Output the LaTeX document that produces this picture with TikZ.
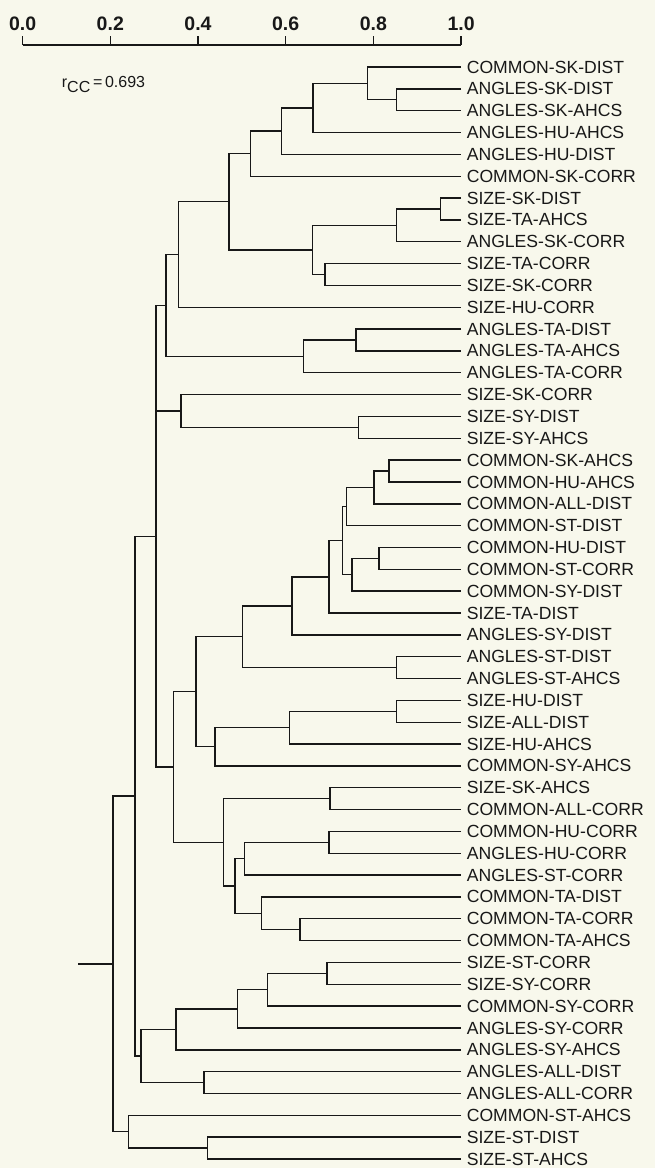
\documentclass[tikz,border=0pt]{standalone}
\usepackage{fontspec}
\setmainfont{Liberation Sans}
\usetikzlibrary{calc}
\definecolor{paper}{RGB}{248,248,236}
\definecolor{ink}{RGB}{24,24,24}

\begin{document}
\begin{tikzpicture}[x=438.5pt,y=-1pt,font=\fontsize{17.6}{17.6}\selectfont,
    branch/.style={ink,line width=1.4pt},
    leaflab/.style={anchor=west,inner sep=0pt,xshift=5.5pt,text=ink},
    ticklab/.style={anchor=base,inner sep=0pt,text=ink,font=\fontsize{19.5}{19.5}\selectfont\bfseries}]
  \fill[paper] (-0.05154,0) rectangle (1.44219,1168);
  \useasboundingbox (-0.05154,0) rectangle (1.44219,1168);
  \coordinate (zero) at (0,45);
  \coordinate (one) at (1,45);
  \draw[branch] (zero) -- (one);
  \foreach \t/\lab [count=\k] in {0/0.0,.2/0.2,.4/0.4,.6/0.6,.8/0.8,1/1.0} {
    \draw[branch] (\t,36)--(\t,45);
    \node[ticklab] (ax\k) at (\t,30) {\lab};
  }
  \node[anchor=base west,inner sep=0pt,text=ink,font=\fontsize{16}{16}\selectfont]
    (rcc) at (0.0892,87.3) {r\raisebox{-0.3em}{CC}\,=\,0.693};
  \foreach \lab [count=\i] in {COMMON-SK-DIST,ANGLES-SK-DIST,ANGLES-SK-AHCS,
      ANGLES-HU-AHCS,ANGLES-HU-DIST,COMMON-SK-CORR,SIZE-SK-DIST,SIZE-TA-AHCS,
      ANGLES-SK-CORR,SIZE-TA-CORR,SIZE-SK-CORR,SIZE-HU-CORR,ANGLES-TA-DIST,
      ANGLES-TA-AHCS,ANGLES-TA-CORR,SIZE-SK-CORR,SIZE-SY-DIST,SIZE-SY-AHCS,
      COMMON-SK-AHCS,COMMON-HU-AHCS,COMMON-ALL-DIST,COMMON-ST-DIST,
      COMMON-HU-DIST,COMMON-ST-CORR,COMMON-SY-DIST,SIZE-TA-DIST,ANGLES-SY-DIST,
      ANGLES-ST-DIST,ANGLES-ST-AHCS,SIZE-HU-DIST,SIZE-ALL-DIST,SIZE-HU-AHCS,
      COMMON-SY-AHCS,SIZE-SK-AHCS,COMMON-ALL-CORR,COMMON-HU-CORR,
      ANGLES-HU-CORR,ANGLES-ST-CORR,COMMON-TA-DIST,COMMON-TA-CORR,
      COMMON-TA-AHCS,SIZE-ST-CORR,SIZE-SY-CORR,COMMON-SY-CORR,ANGLES-SY-CORR,
      ANGLES-SY-AHCS,ANGLES-ALL-DIST,ANGLES-ALL-CORR,COMMON-ST-AHCS,
      SIZE-ST-DIST,SIZE-ST-AHCS} {
    \coordinate (l\i) at (1,{67+21.84*(\i-1)});
    \node[leaflab] (t\i) at (l\i) {\lab};
  }
  \foreach \n/\v/\a/\b in {
      A/.853/l2/l3, B/.786/l1/A, C/.662/B/l4, D/.591/C/l5, E/.520/D/l6,
      F/.953/l7/l8, G/.853/F/l9, H/.690/l10/l11, I/.661/G/H, J/.471/E/I,
      K/.355/J/l12, O/.760/l13/l14, N/.640/O/l15, M/.327/K/N,
      R/.766/l17/l18, Q/.361/l16/R,
      ca/.836/l19/l20, cb/.801/ca/l21, cc/.739/cb/l22, cd/.813/l23/l24,
      ce/.751/cd/l25, cf/.729/cc/ce, cg/.699/cf/l26, ch/.614/cg/l27,
      X/.852/l28/l29, W/.502/ch/X,
      yb/.853/l30/l31, ya/.608/yb/l32, Y/.439/ya/l33, V/.395/W/Y,
      sa/.701/l34/l35, se/.699/l36/l37, sc/.506/se/l38, sf/.633/l40/l41,
      sd/.545/l39/sf, sb/.484/sc/sd, Z/.458/sa/sb, S/.344/V/Z,
      P/.304/M/S,
      de/.694/l42/l43, dd/.558/de/l44, dc/.490/dd/l45, da/.350/dc/l46,
      db/.414/l47/l48, U/.270/da/db, T/.256/P/U,
      eb/.422/l50/l51, ea/.241/l49/eb, root/.206/T/ea} {
    \coordinate (\n m) at ($(\a)!.5!(\b)$);
    \coordinate (\n) at (\v,0|-\n m);
    \draw[branch] (\a) -| (\n) |- (\b);
  }
  \draw[branch] (Q) -- (Q-|P);
  \coordinate (stub) at (.127,0|-root);
  \draw[branch] (stub) -- (root);
\end{tikzpicture}
\end{document}
